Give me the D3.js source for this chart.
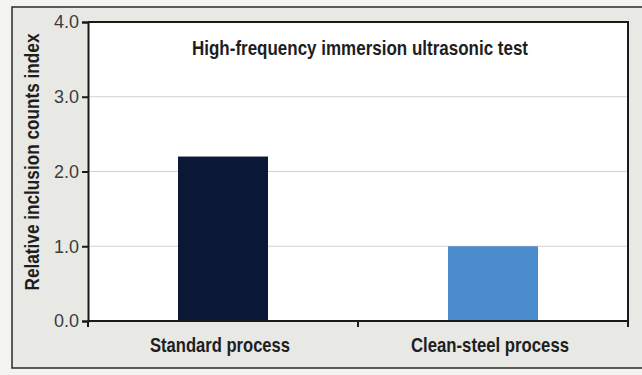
<!DOCTYPE html>
<html>
<head>
<meta charset="utf-8">
<script src="https://cdn.jsdelivr.net/npm/d3@7"></script>
<style>
  html, body { margin: 0; padding: 0; background: #f4f4f2; }
  svg { display: block; }
  .narrow { font-family: "Liberation Sans", Arial, sans-serif; }
</style>
</head>
<body>
<svg id="chart" width="642" height="375"></svg>
<script>
// Chart data
const categories = ["Standard process", "Clean-steel process"];
const values = [2.2, 1.0];
const barColors = ["#0c1838", "#4b8dcc"];
const yTicks = [0, 1, 2, 3, 4];
const title = "High-frequency immersion ultrasonic test";
const yLabel = "Relative inclusion counts index";

const svg = d3.select("#chart");
const W = 642, H = 375;

// Panel background
svg.append("rect").attr("x", 0).attr("y", 0).attr("width", W).attr("height", H).attr("fill", "#f3f3f1");
svg.append("rect")
  .attr("x", 12).attr("y", 7).attr("width", 660).attr("height", 361)
  .attr("fill", "#e8e8e5").attr("stroke", "#2a2a2a").attr("stroke-width", 1.5);

const plot = { left: 88, right: 628, top: 22, bottom: 321 };

const x = d3.scaleBand().domain(categories).range([plot.left, plot.right]).paddingInner(0).paddingOuter(0);
const y = d3.scaleLinear().domain([0, 4]).range([plot.bottom, plot.top]);

// Condensed lettering: fit each string into a set width
function fitWidth(sel, w) {
  sel.attr("textLength", w).attr("lengthAdjust", "spacingAndGlyphs");
}

// Plot area
svg.append("rect")
  .attr("x", plot.left).attr("y", plot.top)
  .attr("width", plot.right - plot.left).attr("height", plot.bottom - plot.top)
  .attr("fill", "#ffffff");

// Gridlines
svg.append("g").selectAll("line").data(yTicks.filter(t => t > 0 && t < 4)).join("line")
  .attr("x1", plot.left).attr("x2", plot.right)
  .attr("y1", d => y(d)).attr("y2", d => y(d))
  .attr("stroke", "#d2d2d2").attr("stroke-width", 1);

// Bars, one third of each band wide, centred
const bw = x.bandwidth() / 3;
svg.append("g").selectAll("rect").data(categories).join("rect")
  .attr("x", d => x(d) + x.bandwidth() / 2 - bw / 2)
  .attr("y", (d, i) => y(values[i]))
  .attr("width", bw)
  .attr("height", (d, i) => y(0) - y(values[i]))
  .attr("fill", (d, i) => barColors[i]);

// Frame (top and right edges)
svg.append("path")
  .attr("d", `M${plot.left},${plot.top}H${plot.right}V${plot.bottom}`)
  .attr("fill", "none").attr("stroke", "#1a1a1a").attr("stroke-width", 2);

// Y axis
const yAxis = svg.append("g")
  .attr("transform", `translate(${plot.left},0)`)
  .call(d3.axisLeft(y).tickValues(yTicks).tickFormat(d3.format(".1f")).tickSize(6).tickPadding(3));
yAxis.select(".domain").attr("stroke", "#1a1a1a").attr("stroke-width", 2);
yAxis.selectAll(".tick line").attr("stroke", "#1a1a1a").attr("stroke-width", 2);
yAxis.selectAll(".tick text")
  .attr("class", "narrow")
  .attr("font-size", 18).attr("fill", "#3c3c3c")
  .call(fitWidth, 25);

// X axis: ticks on the band boundaries
const boundaries = [plot.left, ...categories.slice(1).map(c => x(c)), plot.right];
const xAxisG = svg.append("g");
xAxisG.append("line")
  .attr("x1", plot.left).attr("x2", plot.right)
  .attr("y1", plot.bottom).attr("y2", plot.bottom)
  .attr("stroke", "#1a1a1a").attr("stroke-width", 2);
xAxisG.selectAll("line.tick").data(boundaries).join("line")
  .attr("class", "tick")
  .attr("x1", d => d).attr("x2", d => d)
  .attr("y1", plot.bottom).attr("y2", plot.bottom + 6)
  .attr("stroke", "#1a1a1a").attr("stroke-width", 2);
const catWidths = [140, 158];
xAxisG.selectAll("text").data(categories).join("text")
  .attr("class", "narrow")
  .attr("x", d => x(d) + x.bandwidth() / 2 - 3)
  .attr("y", plot.bottom + 31)
  .attr("text-anchor", "middle")
  .attr("font-size", 20.5).attr("font-weight", "bold").attr("fill", "#1e1e1e")
  .text(d => d)
  .attr("textLength", (d, i) => catWidths[i]).attr("lengthAdjust", "spacingAndGlyphs");

// Title
svg.append("text")
  .attr("class", "narrow")
  .attr("x", 360).attr("y", 55)
  .attr("text-anchor", "middle")
  .attr("font-size", 20.5).attr("font-weight", "bold").attr("fill", "#1e1e1e")
  .text(title)
  .call(fitWidth, 336);

// Y axis label
svg.append("text")
  .attr("class", "narrow")
  .attr("transform", `translate(39,162) rotate(-90)`)
  .attr("text-anchor", "middle")
  .attr("font-size", 19.5).attr("font-weight", "bold").attr("fill", "#1e1e1e")
  .text(yLabel)
  .call(fitWidth, 257);
</script>
</body>
</html>
